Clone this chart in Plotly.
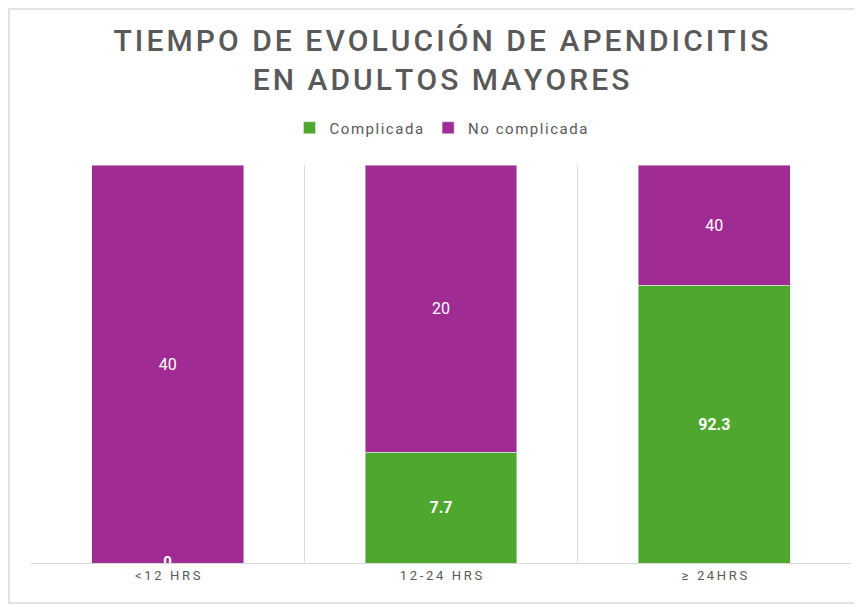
import plotly.graph_objects as go

categories = ["<12 HRS", "12-24 HRS", "≥ 24HRS"]
complicada = [0, 7.7, 92.3]
no_complicada = [40, 20, 40]

GREEN = "#4EA72E"
PURPLE = "#A02B93"
GRAY = "#595959"
LINE = "#D9D9D9"


def spaced(s, gap="\u200a"):
    # imitate the wide letter spacing of the original
    return gap.join(s)


fig = go.Figure()
fig.add_trace(go.Bar(
    x=categories, y=complicada, name=spaced("Complicada"),
    marker_color=GREEN,
    text=[v if v else "" for v in complicada], texttemplate="<b>%{text}</b>",
    textposition="inside", insidetextanchor="middle",
    textfont=dict(color="white", size=16, family="Roboto"),
))
fig.add_trace(go.Bar(
    x=categories, y=no_complicada, name=spaced("No complicada"),
    marker_color=PURPLE,
    text=no_complicada, texttemplate="%{text}",
    textposition="inside", insidetextanchor="middle",
    textfont=dict(color="white", size=16, family="Roboto"),
))
# zero-value labels sit on the baseline, half clipped
zero_x = [c for c, v in zip(categories, complicada) if v == 0]
fig.add_trace(go.Scatter(
    x=zero_x, y=[0] * len(zero_x), mode="text",
    text=["<b>0</b>"] * len(zero_x), textposition="middle center",
    textfont=dict(color="white", size=15, family="Roboto"),
    showlegend=False, hoverinfo="skip", cliponaxis=True,
))

# the page body has an 8px margin, so the figure is 8px smaller each way
fig.update_layout(
    width=854, height=599,
    barmode="stack", barnorm="percent", bargap=0.444,
    plot_bgcolor="white", paper_bgcolor="white",
    margin=dict(l=23, r=11, t=157, b=44),
    title=dict(
        text=spaced("TIEMPO DE EVOLUCIÓN DE APENDICITIS") + "<br>" + spaced("EN ADULTOS MAYORES"),
        x=0.5, xref="paper", y=1 - 42.5 / 599, yref="container",
        xanchor="center", yanchor="middle",
        font=dict(family="Roboto", size=30, color=GRAY, weight=500),
    ),
    legend=dict(
        orientation="h", x=0.5, xanchor="center", y=1.093, yanchor="middle",
        font=dict(family="Roboto", size=15, color=GRAY),
        itemwidth=30, traceorder="normal",
    ),
    font=dict(family="Roboto", color=GRAY),
    shapes=[dict(
        type="rect", xref="paper", yref="paper",
        x0=-0.0268, x1=1.03, y0=-0.1005, y1=1.392,
        line=dict(color=LINE, width=1.5), layer="below",
    )],
)
fig.update_xaxes(
    tickson="boundaries", showgrid=True, gridcolor=LINE, gridwidth=1,
    showline=True, linecolor=LINE, linewidth=1, ticks="",
    tickvals=categories, ticktext=[spaced(c, "\u2009") for c in categories],
    tickfont=dict(family="Roboto", size=13, color=GRAY),
)
fig.update_yaxes(range=[0, 100], visible=False, showgrid=False)

fig.write_html("out.html")
